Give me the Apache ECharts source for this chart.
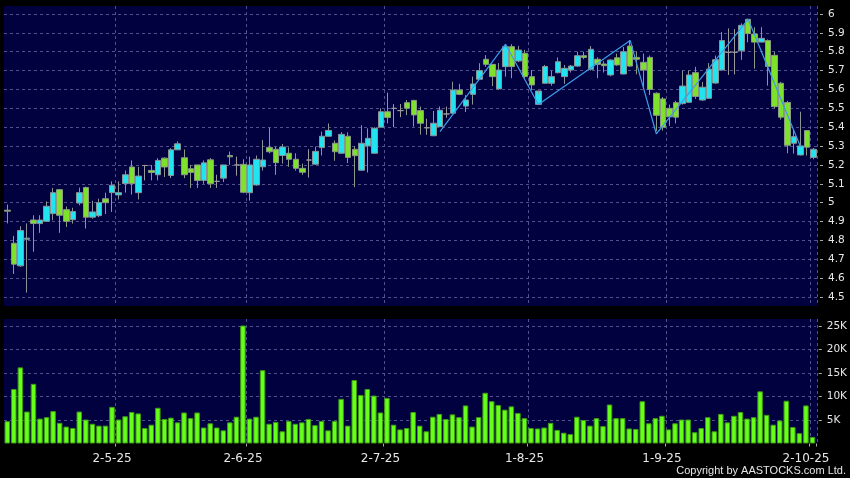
<!DOCTYPE html>
<html>
<head>
<meta charset="utf-8">
<script src="https://cdn.jsdelivr.net/npm/echarts@6/dist/echarts.min.js"></script>
<style>
html,body{margin:0;padding:0;background:#000;}
#chart{width:850px;height:478px;}
</style>
</head>
<body>
<div id="chart"></div>
<script>
const dates = [
'3-4-25','7-4-25','8-4-25','9-4-25','10-4-25','11-4-25','14-4-25','15-4-25','16-4-25','17-4-25','22-4-25','23-4-25','24-4-25','25-4-25','28-4-25','29-4-25','30-4-25',
'2-5-25','6-5-25','7-5-25','8-5-25','9-5-25','12-5-25','13-5-25','14-5-25','15-5-25','16-5-25','19-5-25','20-5-25','21-5-25','22-5-25','23-5-25','26-5-25','27-5-25','28-5-25','29-5-25','30-5-25',
'2-6-25','3-6-25','4-6-25','5-6-25','6-6-25','9-6-25','10-6-25','11-6-25','12-6-25','13-6-25','16-6-25','17-6-25','18-6-25','19-6-25','20-6-25','23-6-25','24-6-25','25-6-25','26-6-25','27-6-25','30-6-25',
'2-7-25','3-7-25','4-7-25','7-7-25','8-7-25','9-7-25','10-7-25','11-7-25','14-7-25','15-7-25','16-7-25','17-7-25','18-7-25','21-7-25','22-7-25','23-7-25','24-7-25','25-7-25','28-7-25','29-7-25','30-7-25','31-7-25',
'1-8-25','4-8-25','5-8-25','6-8-25','7-8-25','8-8-25','11-8-25','12-8-25','13-8-25','14-8-25','15-8-25','18-8-25','19-8-25','20-8-25','21-8-25','22-8-25','25-8-25','26-8-25','27-8-25','28-8-25','29-8-25',
'1-9-25','2-9-25','3-9-25','4-9-25','5-9-25','8-9-25','9-9-25','10-9-25','11-9-25','12-9-25','15-9-25','16-9-25','17-9-25','18-9-25','19-9-25','22-9-25','23-9-25','24-9-25','25-9-25','26-9-25','29-9-25','30-9-25',
'2-10-25'
];
const opens = [
4.96,4.785,4.665,4.806,4.908,4.889,4.901,4.942,5.069,4.963,4.91,4.998,5.08,4.923,4.931,5.021,5.053,5.041,5.101,5.189,
5.053,5.197,5.171,5.148,5.236,5.144,5.28,5.238,5.18,5.2,5.118,5.227,5.113,5.13,5.25,5.2,5.203,5.053,5.094,5.19,
5.293,5.283,5.25,5.262,5.23,5.182,5.226,5.204,5.292,5.352,5.315,5.262,5.352,5.283,5.172,5.301,5.262,5.4,5.482,5.5,
5.488,5.53,5.542,5.488,5.397,5.355,5.403,5.47,5.474,5.597,5.512,5.574,5.654,5.76,5.733,5.603,5.721,5.827,5.751,5.792,
5.668,5.521,5.633,5.633,5.689,5.668,5.703,5.724,5.779,5.707,5.76,5.735,5.677,5.768,5.682,5.83,5.77,5.744,5.77,5.58,
5.55,5.5,5.53,5.525,5.532,5.689,5.544,5.553,5.634,5.703,5.797,5.797,5.805,5.972,5.894,5.851,5.859,5.781,5.633,5.531,
5.315,5.253,5.382,5.24
];
const closes = [
4.955,4.674,4.852,4.812,4.89,4.908,4.981,5.053,4.933,4.901,4.953,5.053,4.923,4.951,5.0,5.0,5.092,5.053,5.148,5.101,
5.141,5.197,5.16,5.224,5.189,5.28,5.312,5.148,5.16,5.118,5.211,5.1,5.113,5.2,5.243,5.2,5.055,5.2,5.23,5.226,
5.27,5.212,5.295,5.23,5.182,5.161,5.226,5.272,5.352,5.383,5.27,5.362,5.24,5.249,5.315,5.341,5.394,5.482,5.452,5.5,
5.488,5.5,5.465,5.421,5.397,5.421,5.49,5.47,5.597,5.574,5.544,5.629,5.7,5.733,5.668,5.703,5.827,5.721,5.809,5.668,
5.624,5.592,5.722,5.668,5.747,5.712,5.724,5.779,5.77,5.813,5.733,5.726,5.756,5.73,5.8,5.724,5.76,5.703,5.6,5.463,
5.4,5.455,5.453,5.618,5.677,5.563,5.612,5.708,5.758,5.859,5.797,5.797,5.94,5.896,5.851,5.871,5.722,5.509,5.453,5.304,
5.35,5.301,5.294,5.283
];
const lows = [
4.89,4.622,4.66,4.523,4.74,4.84,4.9,4.907,4.84,4.871,4.889,4.986,4.863,4.915,4.923,4.94,4.951,5.017,5.053,5.043,
5.017,5.118,5.118,5.118,5.136,5.13,5.28,5.13,5.078,5.078,5.1,5.078,5.078,5.109,5.2,5.143,5.05,5.011,5.09,5.17,
5.261,5.147,5.207,5.19,5.17,5.147,5.133,5.2,5.25,5.35,5.222,5.26,5.21,5.082,5.17,5.16,5.26,5.4,5.42,5.4,
5.453,5.464,5.403,5.36,5.36,5.352,5.4,5.45,5.47,5.57,5.48,5.52,5.65,5.72,5.618,5.6,5.668,5.66,5.745,5.66,
5.597,5.52,5.63,5.62,5.685,5.63,5.69,5.72,5.76,5.7,5.66,5.69,5.67,5.725,5.68,5.72,5.68,5.6,5.571,5.38,
5.382,5.407,5.42,5.52,5.53,5.55,5.54,5.55,5.63,5.7,5.677,5.68,5.757,5.85,5.71,5.85,5.62,5.5,5.44,5.262,
5.26,5.25,5.25,5.23
];
const highs = [
4.99,4.824,4.875,4.89,4.933,4.933,5.007,5.078,5.072,4.98,4.973,5.08,5.085,5.01,5.021,5.053,5.113,5.113,5.17,5.224,
5.19,5.2,5.2,5.236,5.24,5.289,5.325,5.282,5.2,5.2,5.224,5.236,5.148,5.2,5.271,5.244,5.23,5.244,5.25,5.332,
5.397,5.297,5.311,5.293,5.262,5.207,5.283,5.297,5.377,5.42,5.33,5.374,5.373,5.3,5.411,5.394,5.4,5.5,5.583,5.522,
5.523,5.544,5.545,5.509,5.445,5.486,5.51,5.509,5.641,5.63,5.57,5.668,5.739,5.782,5.735,5.74,5.84,5.84,5.83,5.81,
5.703,5.575,5.73,5.7,5.77,5.73,5.73,5.8,5.8,5.83,5.77,5.75,5.76,5.79,5.825,5.862,5.8,5.79,5.78,5.585,
5.56,5.52,5.54,5.7,5.7,5.72,5.64,5.74,5.78,5.905,5.924,5.92,5.95,5.975,5.93,5.93,5.865,5.8,5.64,5.54,
5.39,5.482,5.385,5.29
];
const volumes = [
4750,11600,16200,6800,12700,5300,5600,6900,4400,3600,3300,6800,5100,4200,3800,3800,7800,5100,5800,6700,
6400,3300,4000,7600,5200,5500,4500,6600,5400,6600,3400,4300,3400,2800,4500,5700,25200,5300,5700,15600,
4200,4600,2600,4800,4200,4500,5200,3900,4800,2800,4800,9500,3800,13500,10300,11600,10200,6600,9700,4000,
3000,3300,6700,3800,2600,5700,6300,5200,6200,5600,8100,3600,5600,10800,9000,8200,7200,7900,6500,5400,
3300,3200,3400,4400,2900,2300,2000,5700,5000,3800,5400,3700,8300,5400,5400,3200,3100,9000,4300,5400,
5900,3000,4300,5100,5100,2400,3300,5600,2600,6300,4500,5900,6700,5300,5600,11100,6100,4000,4900,9100,
3500,2200,8100,1400
];
const zigzagDates = ['14-7-25','28-7-25','4-8-25','22-8-25','28-8-25','17-9-25','29-9-25'];
const zigzagPrices = [5.376,5.84,5.52,5.86,5.364,5.972,5.295];
const xLabelDates = ['2-5-25','2-6-25','2-7-25','1-8-25','1-9-25','2-10-25'];
const volTicks = [5000,10000,15000,20000,25000];

const labelIdx = xLabelDates.map(d => dates.indexOf(d));
const isLabel = (i) => labelIdx.indexOf(i) >= 0;
const candleData = dates.map((d, i) => [opens[i], closes[i], lows[i], highs[i]]);
const zigzagData = zigzagDates.map((d, i) => [d, zigzagPrices[i]]);

const NAVY = '#010140';
const GRIDLINE = {show: true, lineStyle: {color: '#50508a', type: [3, 3], width: 1}};
const hiddenCat = (gi, extra) => Object.assign({
  type: 'category', gridIndex: gi, data: dates, boundaryGap: true,
  axisLine: {show: false}, axisTick: {show: false}, axisLabel: {show: false}, splitLine: {show: false}
}, extra || {});

const chart = echarts.init(document.getElementById('chart'), null, {renderer: 'canvas'});
chart.setOption({
  backgroundColor: '#000',
  animation: false,
  graphic: {elements: [
    {type: 'rect', z: -10, shape: {x: 4, y: 6, width: 813, height: 300}, style: {fill: NAVY}, silent: true},
    {type: 'rect', z: -10, shape: {x: 4, y: 319, width: 813, height: 124}, style: {fill: NAVY}, silent: true},
    {type: 'text', right: 4, bottom: 2, style: {text: 'Copyright by AASTOCKS.com Ltd.', fill: '#e6e6e6', font: '11px "Liberation Sans"'}}
  ]},
  grid: [
    {left: 4, top: 14, width: 813, height: 283},
    {left: 4, top: 326, width: 813, height: 117.5},
    {left: 4, top: 6, width: 813, height: 300},
    {left: 4, top: 319, width: 813, height: 124}
  ],
  xAxis: [
    hiddenCat(0),
    hiddenCat(1, {
      offset: 3,
      axisTick: {show: true, length: 3, interval: (i) => isLabel(i), lineStyle: {color: '#aaaaaa'}},
      axisLabel: {show: true, interval: (i) => isLabel(i), margin: 6, color: '#e6e6e6',
        fontSize: 12, fontFamily: 'DejaVu Sans', padding: [0, 13, 0, 0]}
    }),
    hiddenCat(2, {splitLine: Object.assign({interval: (i) => isLabel(i)}, GRIDLINE)}),
    hiddenCat(3, {splitLine: Object.assign({interval: (i) => isLabel(i)}, GRIDLINE)})
  ],
  yAxis: [
    {type: 'value', gridIndex: 0, position: 'right', min: 4.5, max: 6, interval: 0.1, offset: 3,
      axisLine: {show: false},
      axisTick: {show: true, length: 3, lineStyle: {color: '#aaaaaa'}},
      axisLabel: {margin: 8, color: '#e6e6e6', fontSize: 10.5, fontFamily: 'DejaVu Sans'},
      splitLine: GRIDLINE},
    {type: 'value', gridIndex: 1, position: 'right', min: 0, max: 25000, interval: 5000, offset: 3,
      axisLine: {show: false},
      axisTick: {show: true, length: 3, customValues: volTicks, lineStyle: {color: '#aaaaaa'}},
      axisLabel: {margin: 8, color: '#e6e6e6', fontSize: 10.5, fontFamily: 'DejaVu Sans', customValues: volTicks,
        formatter: (v) => v === 0 ? '' : (v / 1000) + 'K'},
      splitLine: GRIDLINE},
    {type: 'value', gridIndex: 2, show: false, min: 0, max: 1, splitLine: {show: false}},
    {type: 'value', gridIndex: 3, show: false, min: 0, max: 1, splitLine: {show: false}}
  ],
  series: [
    {type: 'candlestick', xAxisIndex: 0, yAxisIndex: 0, data: candleData, barWidth: 6,
      itemStyle: {color: '#22e4f0', color0: '#7ee12b', borderColor: '#8a9494', borderColor0: '#8a9a84',
        borderColorDoji: '#9a9a9a', borderWidth: 1}},
    {type: 'line', xAxisIndex: 0, yAxisIndex: 0, data: zigzagData, symbol: 'none',
      lineStyle: {color: '#3d9de6', width: 1.2}, z: 5},
    {type: 'bar', xAxisIndex: 1, yAxisIndex: 1, data: volumes, barWidth: 5.5,
      itemStyle: {color: '#66ff1a', borderColor: '#3f9a14', borderWidth: 1}}
  ]
});
</script>
</body>
</html>
